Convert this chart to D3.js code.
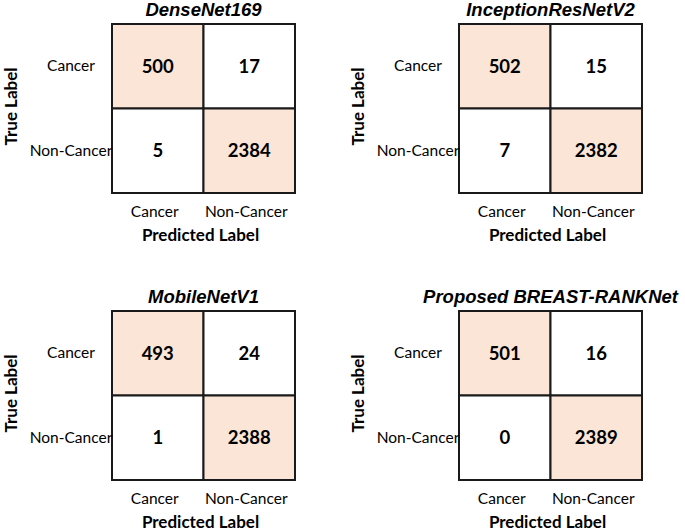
<!DOCTYPE html>
<html><head><meta charset="utf-8">
<script src="https://cdn.jsdelivr.net/npm/d3@7"></script>
<style>
html,body{margin:0;padding:0;background:#fff;}
svg{display:block;}
</style></head>
<body>
<svg id="chart" width="685" height="531"></svg>
<script>
const models = ["DenseNet169", "InceptionResNetV2", "MobileNetV1", "Proposed BREAST-RANKNet"];
const classes = ["Cancer", "Non-Cancer"];
const denseNet169 = [[500, 17], [5, 2384]];
const inceptionResNetV2 = [[502, 15], [7, 2382]];
const mobileNetV1 = [[493, 24], [1, 2388]];
const breastRankNet = [[501, 16], [0, 2389]];
const matrices = [denseNet169, inceptionResNetV2, mobileNetV1, breastRankNet];

const svg = d3.select("#chart");
const boxW = 183, boxH = 169;
const origins = [[112, 24], [459, 24], [112, 311], [459, 311]];
const diagFill = "#fbe5d6";
const labelFont = "Lato, 'Open Sans', sans-serif";

models.forEach((name, i) => {
  const [ox, oy] = origins[i];
  const g = svg.append("g").attr("transform", `translate(${ox},${oy})`);
  const x = d3.scaleBand().domain(classes).range([0, boxW]);
  const y = d3.scaleBand().domain(classes).range([0, boxH]);
  const cells = [];
  matrices[i].forEach((row, r) => row.forEach((v, c) => cells.push({t: classes[r], p: classes[c], v, diag: r === c})));

  g.selectAll("rect.cell").data(cells).join("rect")
    .attr("class", "cell")
    .attr("x", d => x(d.p)).attr("y", d => y(d.t))
    .attr("width", x.bandwidth()).attr("height", y.bandwidth())
    .attr("fill", d => d.diag ? diagFill : "#fff")
    .attr("stroke", "#1a1a1a").attr("stroke-width", 2);

  g.selectAll("text.val").data(cells).join("text")
    .attr("class", "val")
    .attr("x", d => x(d.p) + x.bandwidth() / 2)
    .attr("y", d => y(d.t) + y.bandwidth() / 2)
    .attr("dy", "0.36em")
    .attr("text-anchor", "middle")
    .style("font-family", labelFont).style("font-weight", "bold").style("font-size", "18.5px")
    .attr("fill", "#000")
    .text(d => d.v);

  // left axis (true labels)
  const ya = g.append("g").call(d3.axisLeft(y).tickSize(0).tickPadding(0));
  ya.select(".domain").remove();
  ya.selectAll("text").attr("x", -41).attr("text-anchor", "middle")
    .style("font-family", labelFont).style("font-size", "15.5px").attr("fill", "#000");

  // bottom axis (predicted labels)
  const xa = g.append("g").attr("transform", `translate(0,${boxH})`).call(d3.axisBottom(x).tickSize(0).tickPadding(13));
  xa.select(".domain").remove();
  xa.selectAll("text").attr("dx", -3)
    .style("font-family", labelFont).style("font-size", "15.5px").attr("fill", "#000");

  // title
  g.append("text").attr("x", boxW / 2).attr("y", -8)
    .attr("text-anchor", "middle")
    .style("font-family", "'Liberation Sans', Arial, sans-serif")
    .style("font-weight", "bold").style("font-style", "italic").style("font-size", "18.5px")
    .attr("fill", "#000")
    .text(name);

  // axis titles
  g.append("text").attr("x", boxW / 2 - 3).attr("y", boxH + 48)
    .attr("text-anchor", "middle")
    .style("font-family", labelFont).style("font-weight", "bold").style("font-size", "17px")
    .attr("fill", "#000").text("Predicted Label");

  g.append("text").attr("transform", `translate(${-95},${boxH / 2 - 2}) rotate(-90)`)
    .attr("text-anchor", "middle")
    .style("font-family", labelFont).style("font-weight", "bold").style("font-size", "17px")
    .attr("fill", "#000").text("True Label");
});
</script>
</body></html>
